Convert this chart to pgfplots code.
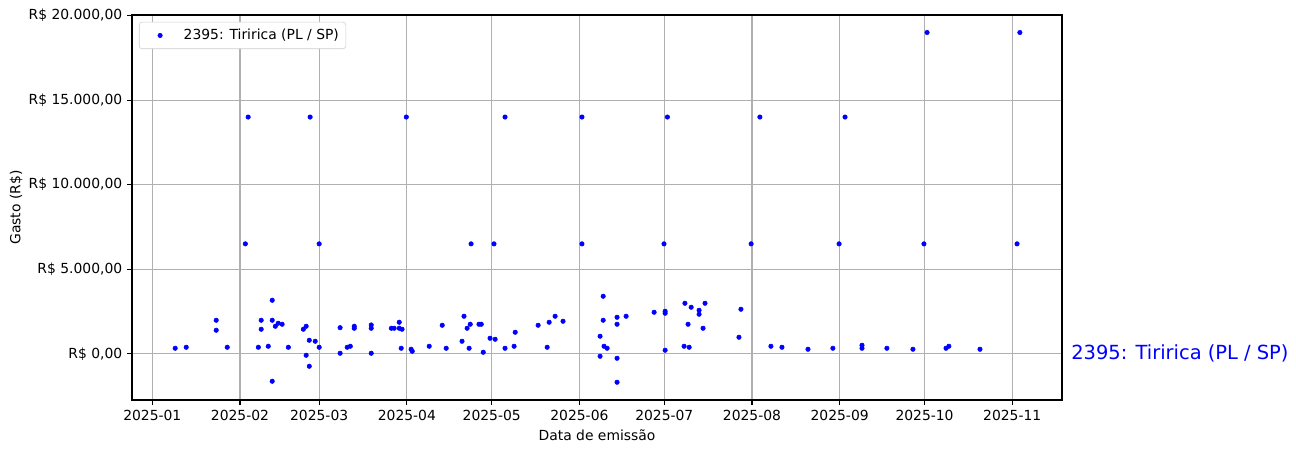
\documentclass[border=0pt]{standalone}
\usepackage{fontspec}
\setmainfont{DejaVu Sans}
\usepackage{pgfplots}
\usepackage{pgfplotstable}
\pgfplotsset{compat=1.18}
\pgfplotstableread{
day val
8.1 325
12.0 384
22.6 1981
22.6 1390
26.5 384
37.5 384
38.5 1981
38.5 1449
41.0 443
42.4 3164
42.4 1981
42.4 -1626
43.5 1626
44.5 1804
45.9 1745
48.1 384
53.4 1449
54.4 1626
54.4 -89
55.5 798
55.5 -739
57.6 739
59.0 384
66.4 1543
66.4 30
68.9 384
70.0 443
71.4 1626
71.4 1508
77.4 1703
77.4 1508
77.4 30
84.5 1508
85.5 1508
87.3 1863
87.3 1508
88.3 1449
88.0 325
91.5 266
91.9 148
97.9 443
102.5 1685
103.9 325
109.5 739
110.2 2218
111.3 1508
112.4 1745
112.0 325
115.5 1745
116.3 1745
117.0 89
119.4 917
121.2 857
124.7 325
127.9 443
128.3 1271
136.4 1685
139.6 384
140.3 1863
142.4 2218
145.2 1922
158.3 1035
159.4 3400
159.4 1981
158.3 -148
159.7 443
160.8 325
164.3 2158
164.3 1745
164.3 -266
164.3 -1685
167.5 2218
177.4 2454
181.3 2513
181.3 2395
181.3 207
188.0 443
188.3 2986
189.4 1745
189.8 384
190.5 2750
193.3 2572
193.3 2336
194.7 1508
195.4 2986
207.4 976
208.1 2632
218.7 443
222.6 384
231.8 266
240.6 325
250.9 503
250.9 325
259.7 325
268.9 266
280.6 325
281.6 443
292.6 266
33.9 14000
55.8 14000
89.8 14000
124.7 14000
151.9 14000
182.1 14000
214.8 14000
244.9 14000
32.9 6500
59.0 6500
112.7 6500
120.8 6500
151.9 6500
180.9 6500
211.7 6500
242.8 6500
272.8 6500
305.7 6500
273.9 19000
306.7 19000
}\gastos
\begin{document}
\begin{tikzpicture}
\useasboundingbox (-95.04pt,-38.16pt) rectangle (838.08pt,288pt);
\begin{axis}[
  at={(0,0)}, anchor=south west,
  scale only axis, width=669.6pt, height=277.2pt,
  xmin=-7.17, xmax=321.6, ymin=-2735, ymax=20035,
  clip=false, scaled y ticks=false, scaled x ticks=false,
  xtick={0,31,59,90,120,151,181,212,243,273,304},
  xticklabels={2025-01,2025-02,2025-03,2025-04,2025-05,2025-06,2025-07,2025-08,2025-09,2025-10,2025-11},
  ytick={0,5000,10000,15000,20000},
  yticklabels={{R\$ 0,00},{R\$ 5.000,00},{R\$ 10.000,00},{R\$ 15.000,00},{R\$ 20.000,00}},
  ticklabel style={font=\fontsize{10}{12}\selectfont},
  grid=major, grid style={color=black!31, line width=0.8pt},
  axis line style={line width=0.8pt},
  tick align=outside, major tick length=3.5pt,
  tick style={black, line width=0.8pt},
  xtick pos=lower, ytick pos=left,
  xlabel={Data de emissão}, ylabel={Gasto (R\$)},
  label style={font=\fontsize{10}{12}\selectfont},
  xlabel style={at={(axis description cs:0.5,-0.0909)}, anchor=center},
  ylabel style={at={(axis description cs:-0.1247,0.5)}, anchor=center, rotate=0},
  legend style={at={(0.0075,0.982)}, anchor=north west, draw=black!20, rounded corners=2pt,
    font=\fontsize{10}{12}\selectfont, inner xsep=3pt, inner ysep=3pt},
  legend cell align=left,
  legend image code/.code={\path[draw=none,fill=none] (0pt,-3pt) rectangle (27pt,3pt);
    \draw[mark repeat=2,mark phase=2] plot coordinates {(0pt,0pt)(12pt,0pt)(24pt,0pt)};},
]
\addplot[only marks, mark=*, mark size=1.6pt, color=blue] table[x=day, y=val] {\gastos};
\addlegendentry{2395: Tiririca (PL / SP)}
\node[anchor=west, text=blue, font=\fontsize{14}{16}\selectfont, inner sep=0pt] at (rel axis cs:1.0097,0.122) {2395: Tiririca (PL / SP)};
\end{axis}
\end{tikzpicture}
\end{document}
